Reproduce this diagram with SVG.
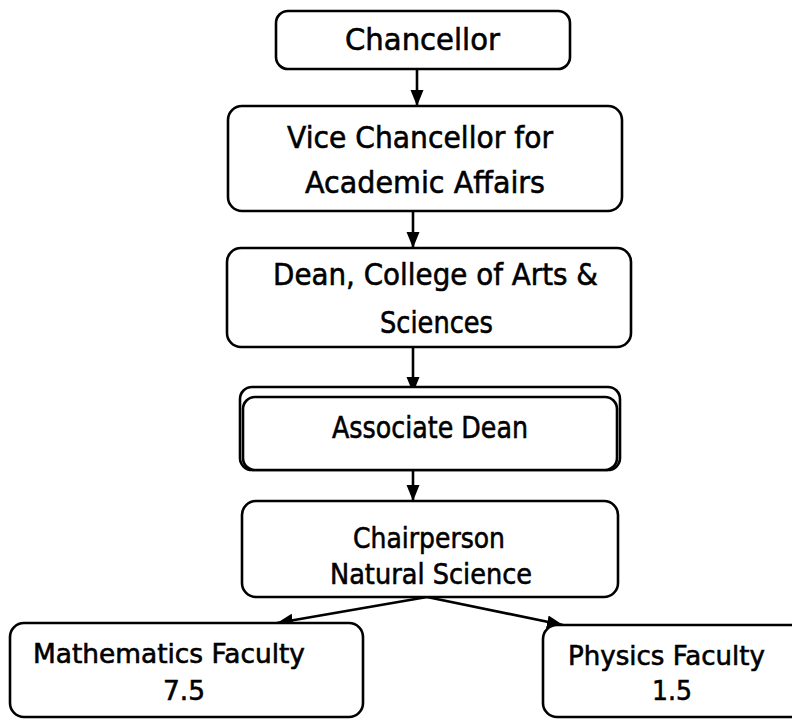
<svg xmlns="http://www.w3.org/2000/svg" width="792" height="719" viewBox="0 0 792 719">
<style>
.box{fill:#fff;stroke:#000;stroke-width:2.6}
.t{font-family:"DejaVu Sans","Liberation Sans",sans-serif;fill:#000;stroke:#000;stroke-width:0.6}
.big{font-size:31px}
.mid{font-size:28px}
.sm{font-size:26px}
.c{stroke:#000;stroke-width:2.6;fill:none}
</style>
<defs>
<marker id="ah" markerUnits="userSpaceOnUse" markerWidth="16" markerHeight="16" viewBox="0 0 16 16" refX="16" refY="8" orient="auto">
<path d="M0,1.5 L16,8 L0,14.5 Z" fill="#000"/>
</marker>
</defs>
<rect width="792" height="719" fill="#fff"/>
<g id="connectors">
<line class="c" x1="417" y1="69" x2="417" y2="106" marker-end="url(#ah)"/>
<line class="c" x1="413" y1="211" x2="413" y2="248" marker-end="url(#ah)"/>
<line class="c" x1="413" y1="347" x2="413" y2="393" marker-end="url(#ah)"/>
<line class="c" x1="413" y1="470" x2="413" y2="501" marker-end="url(#ah)"/>
<line class="c" x1="427" y1="597" x2="277" y2="623" marker-end="url(#ah)"/>
<line class="c" x1="427" y1="597" x2="563" y2="625" marker-end="url(#ah)"/>
</g>
<g id="chancellor">
<rect class="box" x="276" y="11" width="294" height="58" rx="12"/>
<text class="t big" x="345" y="50" textLength="155" lengthAdjust="spacingAndGlyphs">Chancellor</text>
</g>
<g id="vice-chancellor">
<rect class="box" x="228" y="106" width="394" height="105" rx="14"/>
<text class="t big" x="287" y="148" textLength="266" lengthAdjust="spacingAndGlyphs">Vice Chancellor for</text>
<text class="t big" x="305" y="193" textLength="240" lengthAdjust="spacingAndGlyphs">Academic Affairs</text>
</g>
<g id="dean">
<rect class="box" x="227" y="248" width="404" height="99" rx="14"/>
<text class="t big" x="273" y="285" textLength="325" lengthAdjust="spacingAndGlyphs">Dean, College of Arts &amp;</text>
<text class="t big" x="380" y="333" textLength="113" lengthAdjust="spacingAndGlyphs">Sciences</text>
</g>
<g id="associate-dean">
<rect class="box" x="240" y="387" width="380" height="83" rx="12"/>
<rect class="box" x="243" y="397" width="374" height="73" rx="12"/>
<text class="t big" x="332" y="438" textLength="196" lengthAdjust="spacingAndGlyphs">Associate Dean</text>
</g>
<g id="chairperson">
<rect class="box" x="242" y="501" width="376" height="96" rx="14"/>
<text class="t mid" x="353" y="548" textLength="152" lengthAdjust="spacingAndGlyphs">Chairperson</text>
<text class="t mid" x="330" y="584" textLength="202" lengthAdjust="spacingAndGlyphs">Natural Science</text>
</g>
<g id="math-faculty">
<rect class="box" x="10" y="623" width="353" height="94" rx="14"/>
<text class="t sm" x="33" y="663" textLength="272" lengthAdjust="spacingAndGlyphs">Mathematics Faculty</text>
<text class="t sm" x="163" y="700" textLength="42" lengthAdjust="spacingAndGlyphs">7.5</text>
</g>
<g id="physics-faculty">
<rect class="box" x="543" y="625" width="262" height="92" rx="14"/>
<text class="t sm" x="568" y="665" textLength="197" lengthAdjust="spacingAndGlyphs">Physics Faculty</text>
<text class="t sm" x="652" y="700" textLength="40" lengthAdjust="spacingAndGlyphs">1.5</text>
</g>
</svg>
